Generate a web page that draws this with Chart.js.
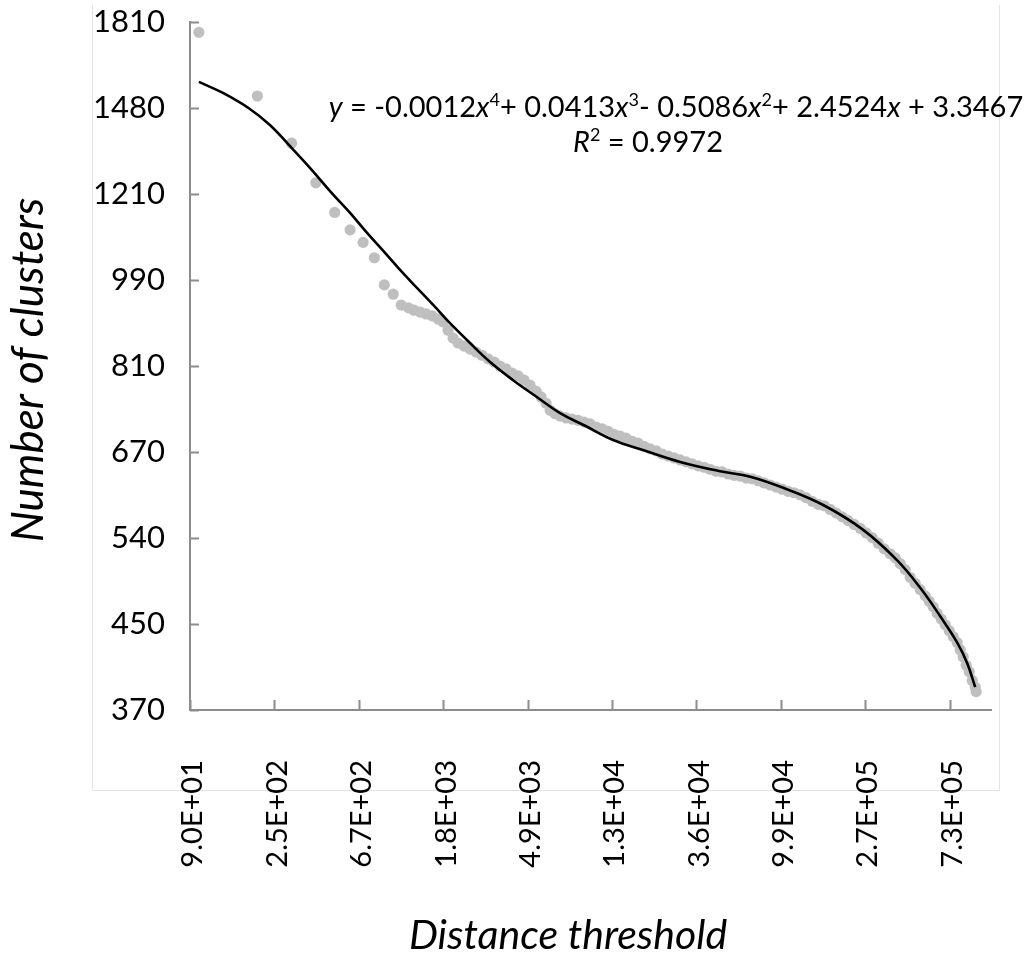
<!DOCTYPE html>
<html>
<head>
<meta charset="utf-8">
<title>Number of clusters vs distance threshold</title>
<script src="https://cdn.jsdelivr.net/npm/chart.js@4.4.1/dist/chart.umd.min.js"></script>
<style>
  html, body { margin: 0; padding: 0; background: #fff; }
  #wrap { width: 1024px; height: 964px; }
</style>
</head>
<body>
<div id="wrap"><canvas id="chart" width="1024" height="964"></canvas></div>
<script>
// axis ticks sit at even steps of ln(value); the labels are what the axes print
const xTickValues = [90.02, 244.69, 665.14, 1808.04, 4914.77, 13359.73, 36315.5, 98715.77, 268337.29, 729416.37];
const xTickLabels = ['9.0E+01', '2.5E+02', '6.7E+02', '1.8E+03', '4.9E+03', '1.3E+04', '3.6E+04', '9.9E+04', '2.7E+05', '7.3E+05'];
const yTickValues = [365.04, 445.86, 544.57, 665.14, 812.41, 992.27, 1211.97, 1480.3, 1808.04];
const yTickLabels = ['370', '450', '540', '670', '810', '990', '1210', '1480', '1810'];

// observed points: distance threshold -> number of clusters
const distance = [
  100, 200, 300, 400, 500, 600, 700, 800, 900, 1000, 1100, 1200, 1280, 1375, 1476, 1585, 1702, 1806,
  1916, 2033, 2157, 2316, 2487, 2670, 2867, 3079, 3305, 3549, 3811, 4092, 4394, 4717, 5065, 5438,
  5770, 6123, 6420, 6812, 7228, 7761, 8333, 8947, 9606, 10310, 11070, 11890, 12770, 13710, 14720,
  15800, 16970, 18220, 19560, 21000, 22550, 24220, 26000, 27920, 29970, 32180, 34560, 37100, 39840,
  42770, 45930, 49310, 52950, 56850, 61040, 65540, 70370, 75560, 81120, 87100, 93520, 100400, 107800,
  115800, 124300, 133500, 143300, 153900, 165200, 177400, 190500, 204500, 219600, 235700, 253100,
  271800, 291800, 313300, 336400, 361200, 383300, 406700, 431500, 457900, 485800, 515500, 547000,
  573500, 601300, 630500, 661100, 693300, 726900, 762200, 799200, 828200, 858100, 889200, 921400,
  954800, 989300, 1000000
];
const clusters = [
  1765, 1522, 1364, 1244, 1161, 1115, 1083, 1045, 981, 960, 936, 930, 925, 921, 917, 913, 906, 900,
  883, 867, 857, 851, 845, 839, 833, 826, 820, 812, 807, 799, 794, 786, 777, 766,
  756, 745, 733, 727, 723, 720, 718, 716, 713, 710, 705, 702, 698, 693, 690,
  687, 682, 679, 674, 670, 667, 662, 659, 656, 653, 650, 647, 644, 642,
  639, 636, 635, 632, 630, 629, 626, 625, 622, 619, 616, 613, 610, 607,
  605, 602, 598, 593, 589, 587, 582, 577, 572, 567, 562, 557,
  551, 545, 538, 531, 525, 520, 513, 506, 497, 490, 483, 476,
  470, 464, 457, 451, 445, 439, 433, 427, 420, 413, 405, 399,
  391, 385, 381
];

// 4th order polynomial trend line, as drawn
const trendDistance = [
  100, 133, 183, 232, 288, 373, 473, 600, 734, 908, 1124, 1375, 1643, 1894, 2487, 3153, 4141, 5375,
  7228, 9721, 13550, 19800, 29970, 48160, 68720, 101600, 163300, 262300, 392500, 515500, 653400,
  799200, 899800, 989300
];
const trendClusters = [
  1573, 1533, 1477, 1423, 1361, 1288, 1220, 1160, 1107, 1057, 1008, 967, 932, 904, 857, 820, 786, 758,
  728, 707, 684, 667, 650, 636, 628, 612, 588, 555, 517, 485, 454,
  427, 407, 385
];

const equationLine = [
  { t: 'y', it: true }, { t: ' = -0.0012' }, { t: 'x', it: true }, { t: '4', sup: true },
  { t: '+ 0.0413' }, { t: 'x', it: true }, { t: '3', sup: true },
  { t: '- 0.5086' }, { t: 'x', it: true }, { t: '2', sup: true },
  { t: '+ 2.4524' }, { t: 'x', it: true }, { t: ' + 3.3467' }
];
const r2Line = [{ t: 'R', it: true }, { t: '2', sup: true }, { t: ' = 0.9972' }];

const FONT = 'Lato, "Open Sans", sans-serif';
const AXIS = '#8c8c8c';

// light plot-area frame behind everything
const frame = {
  id: 'frame',
  beforeDraw(chart) {
    const ctx = chart.ctx;
    ctx.save();
    ctx.strokeStyle = '#e3e3e3';
    ctx.lineWidth = 1;
    ctx.beginPath();
    ctx.moveTo(92.5, 5);
    ctx.lineTo(92.5, 790.5);
    ctx.lineTo(999.5, 790.5);
    ctx.lineTo(999.5, 5);
    ctx.stroke();
    ctx.restore();
  }
};

// tick marks pointing into the plot
const innerTicks = {
  id: 'innerTicks',
  beforeDatasetsDraw(chart) {
    const { ctx, chartArea: a } = chart;
    const { x, y } = chart.scales;
    ctx.save();
    ctx.strokeStyle = AXIS;
    ctx.lineWidth = 2;
    ctx.beginPath();
    x.ticks.forEach(t => {
      const p = Math.round(x.getPixelForValue(t.value)) + 0.5;
      ctx.moveTo(p, a.bottom);
      ctx.lineTo(p, a.bottom - 10);
    });
    y.ticks.forEach(t => {
      const p = Math.round(y.getPixelForValue(t.value)) + 0.5;
      ctx.moveTo(a.left, p);
      ctx.lineTo(a.left + 9, p);
    });
    ctx.stroke();
    ctx.restore();
  }
};

function richWidth(ctx, parts, size) {
  let w = 0;
  parts.forEach(p => {
    ctx.font = (p.it ? 'italic ' : '') + (p.sup ? size * 0.62 : size) + 'px ' + FONT;
    w += ctx.measureText(p.t).width;
  });
  return w;
}

function drawRich(ctx, parts, cx, baseline, size) {
  let x = cx - richWidth(ctx, parts, size) / 2;
  parts.forEach(p => {
    const s = p.sup ? size * 0.62 : size;
    ctx.font = (p.it ? 'italic ' : '') + s + 'px ' + FONT;
    ctx.fillText(p.t, x, p.sup ? baseline - size * 0.38 : baseline);
    x += ctx.measureText(p.t).width;
  });
}

// axis titles and trend line label
const texts = {
  id: 'texts',
  afterDraw(chart) {
    const ctx = chart.ctx;
    ctx.save();
    ctx.fillStyle = '#000';
    ctx.textBaseline = 'alphabetic';
    ctx.textAlign = 'center';
    ctx.font = 'italic 41px ' + FONT;
    ctx.fillText('Distance threshold', 568, 949);
    ctx.save();
    ctx.translate(43, 370);
    ctx.rotate(-Math.PI / 2);
    ctx.font = 'italic 44px ' + FONT;
    ctx.fillText('Number of clusters', 0, 0);
    ctx.restore();
    ctx.textAlign = 'left';
    drawRich(ctx, equationLine, 676, 117, 29);
    drawRich(ctx, r2Line, 648, 152, 29);
    ctx.restore();
  }
};

// keep the plot box fixed: no extra side padding from tick labels
function noPad(s) {
  s.paddingTop = 0; s.paddingBottom = 0; s.paddingLeft = 0; s.paddingRight = 0;
}

new Chart(document.getElementById('chart'), {
  type: 'scatter',
  data: {
    datasets: [
      {
        label: 'Number of clusters',
        data: distance.map((d, i) => ({ x: d, y: clusters[i] })),
        backgroundColor: '#bfbfbf',
        borderWidth: 0,
        pointRadius: 5.6,
        order: 2
      },
      {
        label: 'Poly. trend',
        data: trendDistance.map((d, i) => ({ x: d, y: trendClusters[i] })),
        showLine: true,
        borderColor: '#000',
        borderWidth: 2.6,
        pointRadius: 0,
        tension: 0.4,
        fill: false,
        order: 1
      }
    ]
  },
  options: {
    responsive: false,
    animation: false,
    layout: { padding: { left: 0, right: 32.3, top: 22, bottom: 0 } },
    plugins: { legend: { display: false }, tooltip: { enabled: false } },
    scales: {
      x: {
        type: 'logarithmic',
        min: 90.02,
        max: 1202604,
        afterBuildTicks: s => { s.ticks = xTickValues.map(v => ({ value: v })); },
        afterFit: s => { s.height = 254; noPad(s); },
        grid: { display: true, drawOnChartArea: false, drawTicks: false },
        border: { color: AXIS, width: 2 },
        ticks: {
          autoSkip: false, minRotation: 90, maxRotation: 90, padding: 50, labelOffset: 3,
          color: '#000', font: { family: FONT, size: 29 },
          callback: (v, i) => xTickLabels[i]
        }
      },
      y: {
        type: 'logarithmic',
        min: 365.04,
        max: 1808.04,
        afterBuildTicks: s => { s.ticks = yTickValues.map(v => ({ value: v })); },
        afterFit: s => { s.width = 190; noPad(s); },
        grid: { display: true, drawOnChartArea: false, drawTicks: false },
        border: { color: AXIS, width: 2 },
        ticks: {
          autoSkip: false, padding: 25, color: '#000', font: { family: FONT, size: 31 },
          callback: (v, i) => yTickLabels[i]
        }
      }
    }
  },
  plugins: [frame, innerTicks, texts]
});
</script>
</body>
</html>
